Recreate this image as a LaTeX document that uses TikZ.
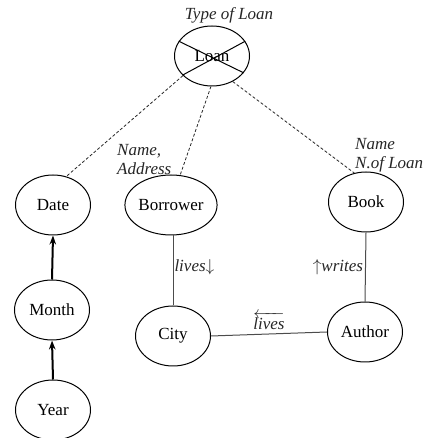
\documentclass[tikz,border=0pt]{standalone}
\usepackage{fontspec}
\setmainfont{Liberation Serif}
\usetikzlibrary{arrows.meta,shapes.geometric}
\begin{document}
\begin{tikzpicture}[x=1pt,y=1pt,
  ent/.style={ellipse,draw,line width=1pt,minimum width=75pt,minimum height=60pt,inner sep=0pt,font=\fontsize{17}{20}\selectfont},
  lbl/.style={font=\fontsize{17}{19}\selectfont\itshape,inner sep=0pt,text=black!85},
  dline/.style={dash pattern=on 3pt off 2pt,line width=0.8pt,black!85},
  sline/.style={line width=1pt,black!70},
  aline/.style={line width=2pt,-{Stealth[length=9pt,width=6.5pt]}}]
\useasboundingbox (0,0) rectangle (424,438);
\node[ent] (loan) at (212,382) {Loan};
\node[ent] (date) at (53,233) {Date};
\node[ent] (borrower) at (171,233) {Borrower};
\node[ent] (book) at (366,236) {Book};
\node[ent] (month) at (52,128) {Month};
\node[ent] (year) at (53,28) {Year};
\node[ent] (city) at (173,102) {City};
\node[ent] (author) at (365,106) {Author};
% cross in Loan
\draw[line width=1pt] (loan.156) -- (loan.332);
\draw[line width=1pt] (loan.213) -- (loan.24);
% labels
\node[lbl] (tl) at (229,423) {Type of Loan};
\node[lbl,anchor=west,align=left] (na) at (117,278) {Name,\\Address};
\node[lbl,anchor=west,align=left] (nl) at (355,283) {Name\\N.of Loan};
% dashed links
\draw[dline] (loan.214) -- (date.65);
\draw[dline] (loan.268) -- (borrower.73);
\draw[dline] (loan.309) -- (book.112);
% solid links
\draw[sline] (borrower.south -| city.north) -- (city.north) node[pos=0.45,right=1pt,lbl] (lv) {lives$\downarrow$};
\draw[sline] (book.south) -- (author.north) node[pos=0.5,left=2pt,lbl] (wr) {$\uparrow$writes};
\draw[sline] (city.east) -- (author.west) node[midway,above=4pt,lbl] (lv2) {$\overleftarrow{\mbox{\itshape lives}}$};
% arrows
\draw[aline] (month.north) -- (date.south);
\draw[aline] (year.north) -- (month.south);
\end{tikzpicture}
\end{document}
